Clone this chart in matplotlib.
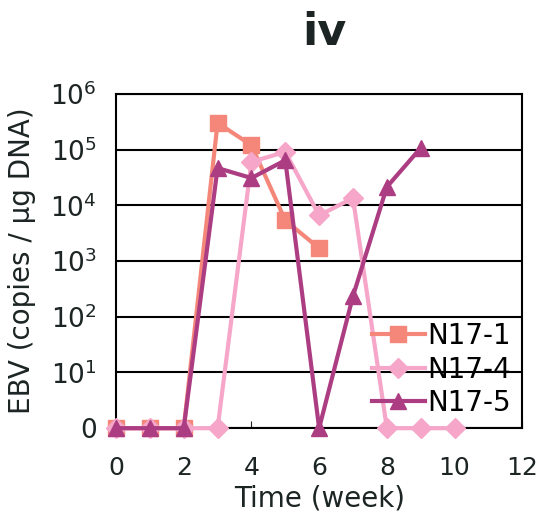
import numpy as np
import matplotlib
matplotlib.use("Agg")
import matplotlib.pyplot as plt

# log10 of EBV copies / ug DNA (0 plotted at the bottom "0" level)
weeks_n17_1 = [0, 1, 2, 3, 4, 5, 6]
log_n17_1 = [0, 0, 0, 5.48, 5.08, 3.73, 3.23]

weeks_n17_4 = [0, 1, 2, 3, 4, 5, 6, 7, 8, 9, 10]
log_n17_4 = [0, 0, 0, 0, 4.78, 4.96, 3.82, 4.13, 0, 0, 0]

weeks_n17_5 = [0, 1, 2, 3, 4, 5, 6, 7, 8, 9]
log_n17_5 = [0, 0, 0, 4.67, 4.49, 4.81, 0, 2.37, 4.33, 5.03]

ytick_labels = ["0", "$10^{1}$", "$10^{2}$", "$10^{3}$", "$10^{4}$", "$10^{5}$", "$10^{6}$"]
xticks = [0, 2, 4, 6, 8, 10, 12]

txt = "#1c2424"

fig = plt.figure(figsize=(5.46, 5.19), dpi=100)
ax = fig.add_axes([0.2125, 0.175, 0.744, 0.644])

ax.plot(weeks_n17_1, log_n17_1, color="#f4877a", marker="s", markersize=11,
        linewidth=3, label="N17-1", clip_on=False, zorder=3)
ax.plot(weeks_n17_4, log_n17_4, color="#f5a6c9", marker="D", markersize=10,
        linewidth=3, label="N17-4", clip_on=False, zorder=3)
ax.plot(weeks_n17_5, log_n17_5, color="#ad3d82", marker="^", markersize=12,
        linewidth=3, label="N17-5", clip_on=False, zorder=4)

ax.set_xlim(0, 12)
ax.set_ylim(0, 6)
ax.set_xticks(xticks)
ax.set_yticks(range(7))
ax.set_yticklabels(ytick_labels)
ax.tick_params(axis="x", direction="in", length=5, labelsize=18, pad=20, colors=txt)
ax.tick_params(axis="y", length=0, labelsize=19, pad=14, colors=txt)
ax.yaxis.grid(True, color="black", linewidth=1.5)
ax.set_axisbelow(True)
for s in ax.spines.values():
    s.set_color("black")
    s.set_linewidth(1.5)

ax.set_xlabel("Time (week)", fontsize=20, color=txt, labelpad=3)
ax.set_ylabel("EBV (copies / \u03bcg DNA)", fontsize=20, color=txt, labelpad=10)
fig.text(0.595, 0.937, "iv", fontsize=32, fontweight="bold", color=txt,
         ha="center", va="center")

ax.legend(loc="lower right", bbox_to_anchor=(1.0, 0.0), frameon=False,
          fontsize=20, handlelength=1.9, handletextpad=0.1, labelspacing=0.2,
          borderaxespad=0)

fig.savefig("out.png", dpi=100)
